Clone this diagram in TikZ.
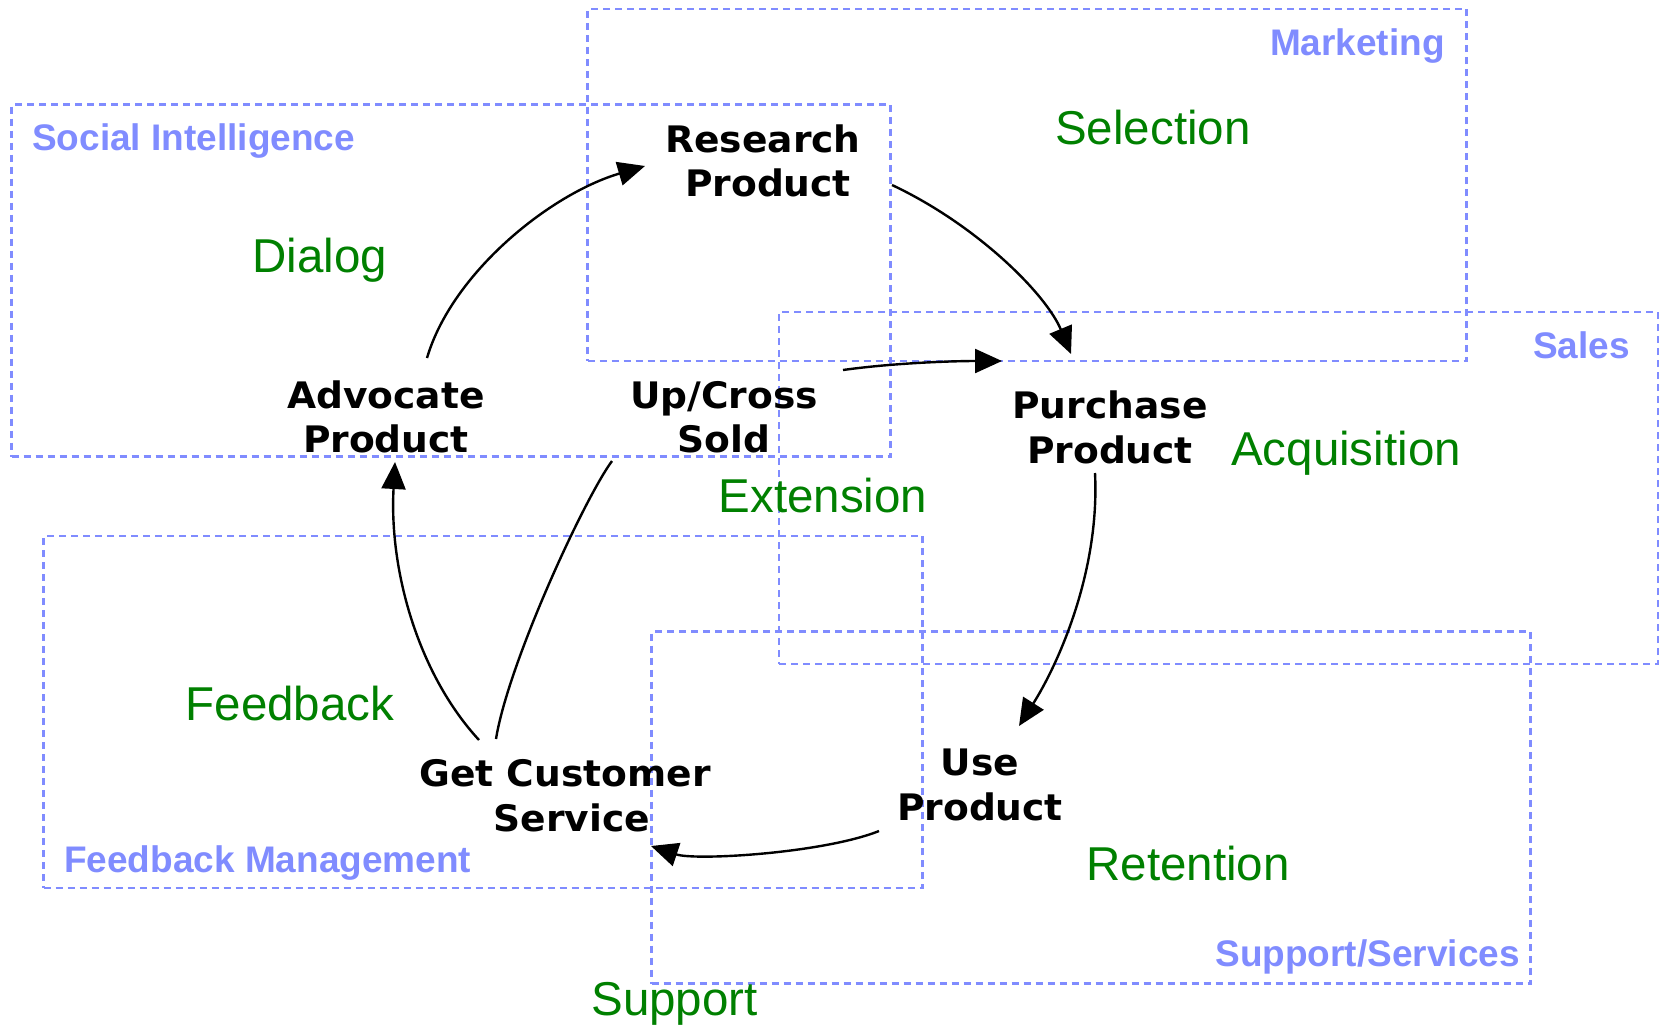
\documentclass[tikz,border=0pt]{standalone}
\usepackage{fontspec}
\usetikzlibrary{arrows.meta}
\newfontfamily\stagefont[FakeStretch=1.03]{DejaVu Sans}
\newfontfamily\zonefont{Liberation Sans}
\newfontfamily\phasefont{Liberation Sans}
\definecolor{zoneblue}{RGB}{128,140,255}
\definecolor{phasegreen}{RGB}{0,128,0}
\tikzset{
  zone/.style={draw=zoneblue, line width=2.2pt, dash pattern=on 7pt off 5pt,
    minimum width=879pt, minimum height=352pt, inner sep=0pt, outer sep=0pt},
  zonelabel/.style={text=zoneblue, inner sep=0pt,
    font=\zonefont\bfseries\fontsize{37}{44}\selectfont},
  phase/.style={text=phasegreen, inner sep=0pt, anchor=base,
    font=\phasefont\fontsize{47.5}{56}\selectfont},
  stage/.style={align=center, inner sep=0pt,
    font=\stagefont\bfseries\fontsize{36.5}{44.4}\selectfont},
  flow/.style={line width=2.4pt, -{Triangle[length=27pt,width=24pt]}},
  link/.style={line width=2.4pt}
}
\begin{document}
\begin{tikzpicture}[x=1pt,y=-1pt]
\useasboundingbox (0,0) rectangle (1659,1026);

% dashed organisational zones
\node[zone] (marketing) at (1027,185) {};
\node[zone] (social)    at (451,280.5) {};
\node[zone] (sales)     at (1218.5,488) {};
\node[zone] (feedback)  at (483,712) {};
\node[zone] (support)   at (1091,807.5) {};

% zone titles
\node[zonelabel, anchor=base east] (lmarketing) at (1445,55)  {Marketing};
\node[zonelabel, anchor=base west] (lsocial)    at (32,150)   {Social Intelligence};
\node[zonelabel, anchor=base east] (lsales)     at (1630,358) {Sales};
\node[zonelabel, anchor=base west] (lfeedback)  at (64,872)   {Feedback Management};
\node[zonelabel, anchor=base east] (lsupport)   at (1520,966) {Support/Services};

% lifecycle phases
\node[phase] (pselection)   at (1153,144)  {Selection};
\node[phase] (pdialog)      at (320,272)   {Dialog};
\node[phase] (pacquisition) at (1346,465)  {Acquisition};
\node[phase] (pextension)   at (823,512)   {Extension};
\node[phase] (pfeedback)    at (290,720)   {Feedback};
\node[phase] (pretention)   at (1188,880)  {Retention};
\node[phase] (psupport)     at (674.5,1015) {Support};

% customer activities
\node[stage] (res) at (763,161)    {Research\\\hspace*{10pt}Product};
\node[stage] (pur) at (1110,427.5) {Purchase\\Product};
\node[stage] (use) at (980,785)    {Use\\Product};
\node[stage] (gcs) at (565,795.5)  {Get Customer\\\hspace*{14pt}Service};
\node[stage] (adv) at (386,417)    {Advocate\\Product};
\node[stage] (up)  at (724,417)    {Up/Cross\\Sold};

% cycle
\draw[flow] ([shift={(41,-59)}]adv.center) .. controls +(25,-85) and +(-95,28) .. ([shift={(-118,5)}]res.center);
\draw[flow] ([shift={(129,24)}]res.center) .. controls +(85,40) and +(-25,-60) .. ([shift={(-39,-73.5)}]pur.center);
\draw[flow] ([shift={(-15,45.5)}]pur.center) .. controls +(5,100) and +(38,-60) .. ([shift={(39,-59)}]use.center);
\draw[flow] ([shift={(-101,46)}]use.center) .. controls +(-55,22) and +(45,15) .. ([shift={(86,50.5)}]gcs.center);
\draw[flow] ([shift={(-86,-55.5)}]gcs.center) .. controls +(-60,-65) and +(-6,110) .. ([shift={(9,45)}]adv.center);
\draw[link] ([shift={(-69,-56.5)}]gcs.center) .. controls +(12,-75) and +(-28,38) .. ([shift={(-112,44)}]up.center);
\draw[flow] ([shift={(119,-47)}]up.center) .. controls +(50,-7) and +(-50,0) .. ([shift={(-108,-66.5)}]pur.center);
\end{tikzpicture}
\end{document}
